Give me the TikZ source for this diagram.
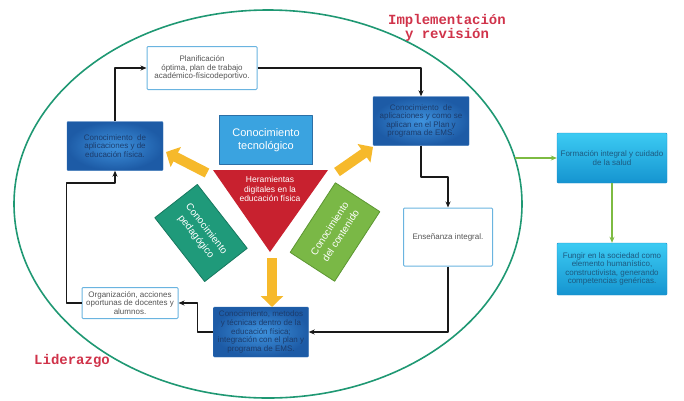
\documentclass[tikz,border=0pt]{standalone}
\usepackage{fontspec}
\setmainfont{Liberation Sans}
\newfontfamily\rotulofont{Liberation Mono}
\usetikzlibrary{arrows.meta}
\definecolor{elipse}{HTML}{1F9873}
\definecolor{rojo}{HTML}{D0334A}
\definecolor{cajaborde}{HTML}{6AB4E0}
\definecolor{texto}{HTML}{555555}
\definecolor{azulclaro}{HTML}{3F93DE}
\definecolor{azuloscuro}{HTML}{1D5BA6}
\definecolor{azulborde}{HTML}{2A6BB5}
\definecolor{textoazul}{HTML}{1C3C6C}
\definecolor{cianclaro}{HTML}{3CCBF3}
\definecolor{cianoscuro}{HTML}{1594D0}
\definecolor{cianborde}{HTML}{1E8CC8}
\definecolor{textocian}{HTML}{1D5A80}
\definecolor{tec}{HTML}{3AA3E0}
\definecolor{tecborde}{HTML}{2C6FA6}
\definecolor{rojotri}{HTML}{C8212F}
\definecolor{pedagogico}{HTML}{1F9A7A}
\definecolor{pedagogicoborde}{HTML}{17785F}
\definecolor{contenido}{HTML}{7AB846}
\definecolor{contenidoborde}{HTML}{5C9632}
\definecolor{amarillo}{HTML}{F6B92B}
\definecolor{verdeflecha}{HTML}{7DBB42}
\begin{document}
\begin{tikzpicture}[x=1pt,y=-1pt,line join=round,>={Stealth[length=6pt,width=5pt]}]
	\tikzset{every node/.style={font=\fontsize{8}{8.6}\selectfont,align=center,inner sep=1pt},
		caja/.style={draw=cajaborde,fill=white,rounded corners=1pt,line width=1pt,text=texto},
		azul/.style={draw=azulborde,inner color=azulclaro,outer color=azuloscuro,rounded corners=1pt,text=textoazul},
		cian/.style={draw=cianborde,top color=cianclaro,bottom color=cianoscuro,rounded corners=1pt,text=textocian},
		rombo/.style={text=white,font=\fontsize{10}{13}\selectfont,line width=0.8pt},
		flecha/.style={->,line width=1.6pt,black!90},
		verde/.style={->,line width=1.6pt,draw=verdeflecha},
		amarilla/.style={line width=10pt,draw=amarillo,-{Triangle[length=11pt,width=22pt]}},
		rotulo/.style={font=\rotulofont\bfseries\fontsize{14}{12.5}\selectfont,text=rojo}}
	\useasboundingbox (0,0) rectangle (684,400);
	\draw[elipse,line width=1.6pt] (268,204) ellipse [x radius=254,y radius=194];
	\node[rotulo] (impl) at (447,28) {Implementación\\y revisión};
	\node[rotulo,anchor=west] (lid) at (33,361) {Liderazgo};
	% cajas del ciclo
	\node[caja,minimum width=110pt,minimum height=43pt] (plan) at (202,68) {Planificación\\óptima, plan de trabajo\\académico-físicodeportivo.};
	\node[azul,minimum width=96pt,minimum height=49pt] (apl) at (115,146) {Conocimiento\ \ de\\aplicaciones y de\\educación física.};
	\node[azul,minimum width=96pt,minimum height=49pt] (ems) at (421,121) {Conocimiento\ \ de\\aplicaciones y como se\\aplican en el Plan y\\programa de EMS.};
	\node[caja,minimum width=89pt,minimum height=58pt] (ens) at (448,237) {Enseñanza integral.};
	\node[azul,minimum width=95pt,minimum height=50pt] (met) at (261,332) {Conocimiento, metodos\\y técnicas dentro de la\\educación física;\\integración con el plan y\\programa de EMS.};
	\node[caja,minimum width=96pt,minimum height=31pt] (org) at (130,303) {Organización, acciones\\oportunas de docentes y\\alumnos.};
	\node[cian,minimum width=110pt,minimum height=50pt] (form) at (612,158) {Formación integral y cuidado\\de la salud};
	\node[cian,minimum width=110pt,minimum height=52pt] (fung) at (612,269) {Fungir en la sociedad como\\elemento humanístico,\\constructivista, generando\\competencias genéricas.};
	% centro
	\node[draw=tecborde,fill=tec,line width=0.8pt,minimum width=93pt,minimum height=49pt,text=white,font=\fontsize{11}{13}\selectfont] (tec) at (266,140) {Conocimiento\\tecnológico};
	\fill[rojotri] (213,170) -- (328,170) -- (270,252) -- cycle;
	\node[text=white,font=\fontsize{8.5}{9.4}\selectfont] (herr) at (270,189) {Heramientas\\digitales en la\\educación física};
	\node[rombo,fill=pedagogico,draw=pedagogicoborde,rotate=-52,minimum width=81pt,minimum height=54pt] (ped) at (201,233) {Conocimiento\\pedagógico};
	\node[rombo,fill=contenido,draw=contenidoborde,rotate=57,minimum width=83pt,minimum height=53pt] (cont) at (335,232) {Conocimiento\\del contenido};
	\coordinate (yi1) at (207,173); \coordinate (yi2) at (166,152);
	\coordinate (yd1) at (337,172); \coordinate (yd2) at (373,147);
	\coordinate (yb1) at (272,258); \coordinate (yb2) at (272,307);
	\foreach \a/\b in {yi1/yi2,yd1/yd2,yb1/yb2}
		\draw[amarilla] (\a) -- (\b);
	% conectores
	\draw[flecha] (apl.north) |- (plan.west);
	\draw[flecha] (plan.east) -| (ems.north);
	\draw[flecha] (ems.south) -- ++(0,31) -| (ens.north);
	\draw[flecha] (ens.south) |- (met.east);
	\draw[flecha] (met.west) -- ++(-16,0) |- (org.east);
	\draw[flecha] (org.west) -| ++(-15,-120) -| (apl.south);
	\coordinate (borde) at (515,158);
	\draw[verde] (borde) -- (form.west);
	\draw[verde] (form.south) -- (fung.north);
\end{tikzpicture}
\end{document}
